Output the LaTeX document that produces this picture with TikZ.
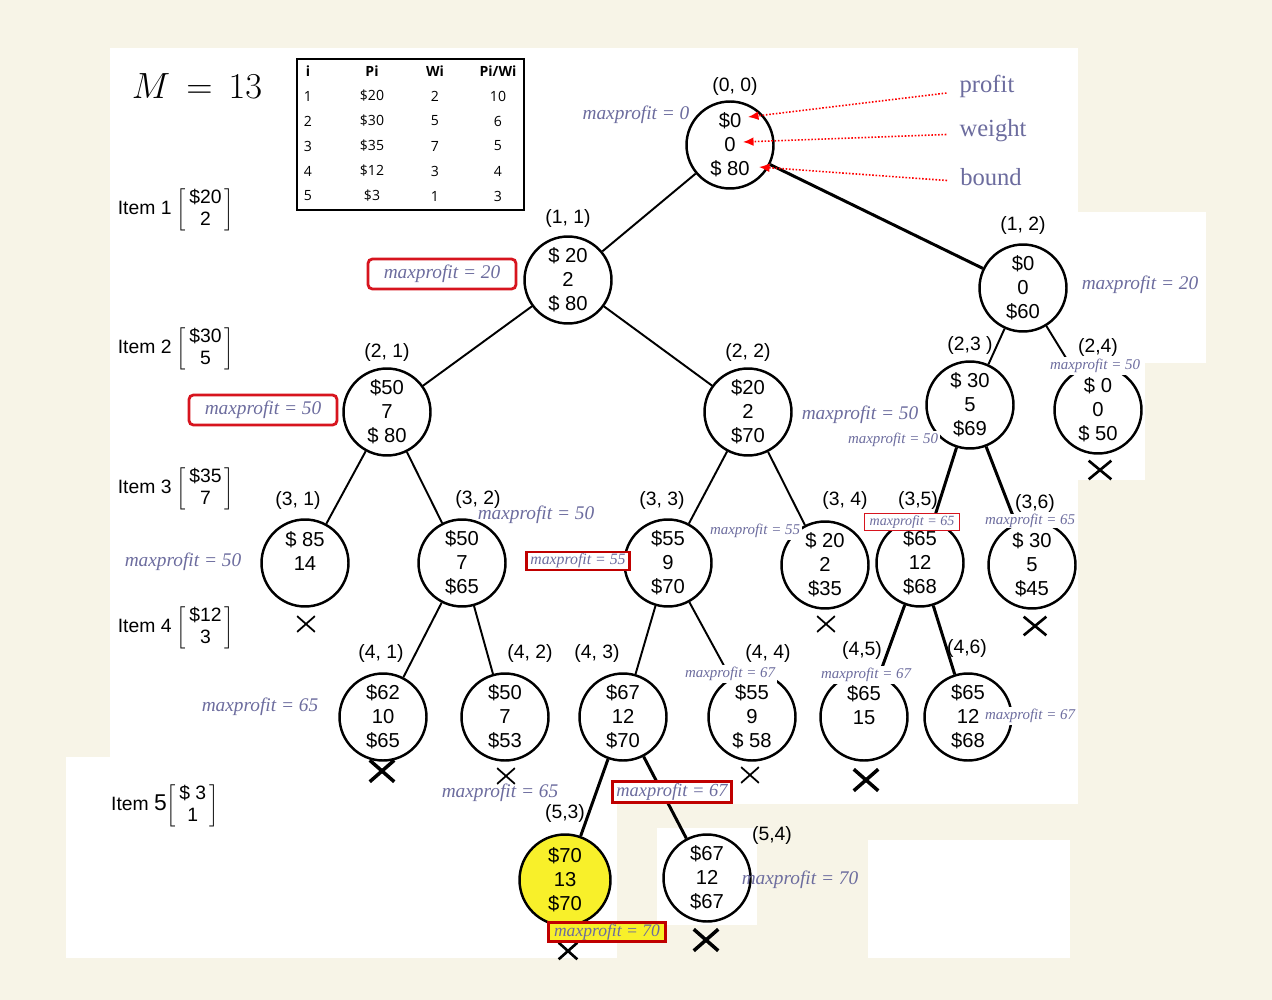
\documentclass[tikz,border=0pt]{standalone}
\usepackage{fontspec}
\setmainfont{Liberation Sans}
\newfontfamily\mpfont{Liberation Serif}
\newfontfamily\tabfont{Open Sans}
\usetikzlibrary{positioning,shapes.misc,arrows.meta}
\definecolor{cream}{HTML}{F7F4E7}
\definecolor{mpblue}{HTML}{6C6C9E}
\definecolor{boxred}{HTML}{D7141E}
\definecolor{darkred}{HTML}{C00000}
\definecolor{hilite}{HTML}{F8F02A}
\tikzset{
  state/.style={circle, draw, line width=1.4pt, minimum size=1.74cm, inner sep=0pt,
    align=center, font=\fontsize{11.5}{13.6}\selectfont},
  coordlbl/.style={font=\fontsize{11}{12}\selectfont, inner sep=1pt},
  mp/.style={text=mpblue, font=\mpfont\itshape\fontsize{11}{12}\selectfont, inner sep=1pt},
  mpsmall/.style={mp, font=\mpfont\itshape\fontsize{8.5}{10}\selectfont, fill=white},
  mpbox/.style={mp, draw=boxred, line width=1.6pt, rounded corners=2.5pt,
    minimum width=2.96cm, minimum height=0.6cm},
  mpsharp/.style={draw=darkred, line width=1.6pt, inner xsep=2pt, inner ysep=1pt},
  edge/.style={line width=1.1pt},
  edgethick/.style={line width=1.7pt},
  prune/.style={cross out, draw, line width=1pt, minimum width=0.32cm, minimum height=0.28cm, inner sep=0pt},
  prunebold/.style={prune, line width=2pt, minimum width=0.42cm, minimum height=0.36cm},
  itemlbl/.style={font=\fontsize{11}{12}\selectfont, inner sep=0pt},
  tabcell/.style={font=\tabfont\fontsize{8}{9}\selectfont, inner sep=0pt},
  hint/.style={draw=red, densely dotted, line width=0.9pt, -{Latex[length=6pt,width=5pt]}},
  hinttext/.style={text=mpblue, font=\mpfont\fontsize{14}{16}\selectfont},
}
\newcommand{\itemvec}[2]{$\left[\mbox{\fontsize{11}{13}\selectfont\begin{tabular}{@{\,}c@{\,}}#1\\#2\end{tabular}}\right]$}
\begin{document}
\begin{tikzpicture}[x=0.02cm, y=-0.02cm]
\useasboundingbox (0,0) rectangle (1272,1000);
% paper and pasted patches
\fill[cream] (0,0) rectangle (1272,1000);
\fill[white] (110,48) rectangle (1078,804);
\fill[white] (1078,212) rectangle (1206,363);
\fill[white] (1078,363) rectangle (1145,480);
\fill[white] (66,757) rectangle (617,958);
\fill[white] (657,828) rectangle (757,925);
\fill[white] (868,840) rectangle (1070,958);

% capacity and item table
\node[font=\fontsize{20}{22}\selectfont] (cap) at (197,86) {$M\,=\,13$};
\draw[line width=0.8pt] (297,59) rectangle (524,210);
\node[tabcell, font=\tabfont\bfseries\fontsize{8}{9}\selectfont] (hi) at (308,71) {i};
\node[tabcell, font=\tabfont\bfseries\fontsize{8}{9}\selectfont] (hp) at (372,71) {Pi};
\node[tabcell, font=\tabfont\bfseries\fontsize{8}{9}\selectfont] (hw) at (435,71) {Wi};
\node[tabcell, font=\tabfont\bfseries\fontsize{8}{9}\selectfont] (hr) at (498,71) {Pi/Wi};
\foreach \p/\w/\r [count=\k] in {20/2/10, 30/5/6, 35/7/5, 12/3/4, 3/1/3}{
  \node[tabcell] (ti\k) at (308,71+25*\k) {\k};
  \node[tabcell] (tp\k) at (372,71+25*\k) {\$\p};
  \node[tabcell] (tw\k) at (435,71+25*\k) {\w};
  \node[tabcell] (tr\k) at (498,71+25*\k) {\r};
}

% items
\node[itemlbl] (item1) at (176,210) {Item 1 \itemvec{\$20}{2}};
\node[itemlbl] (item2) at (176,349) {Item 2 \itemvec{\$30}{5}};
\node[itemlbl] (item3) at (176,489) {Item 3 \itemvec{\$35}{7}};
\node[itemlbl] (item4) at (176,628) {Item 4 \itemvec{\$12}{3}};
\node[itemlbl] (item5) at (165,806) {Item {\fontsize{13}{14}\selectfont 5}\itemvec{\$ 3}{1}};

% state space tree
\node[state] (n00) at (730,145) {\$0\\0\\\$ 80};
\node[state] (n11) at (568,280) {\$ 20\\2\\\$ 80};
\node[state] (n12) at (1023,288) {\$0\\0\\\$60};
\node[state] (n21) at (387,412) {\$50\\7\\\$ 80};
\node[state] (n22) at (748,412) {\$20\\2\\\$70};
\node[state] (n23) at (970,405) {\$ 30\\5\\\$69};
\node[state] (n24) at (1098,410) {\$ 0\\0\\\$ 50};
\node[state] (n31) at (305,563) {\$ 85\\14\\~};
\node[state] (n32) at (462,563) {\$50\\7\\\$65};
\node[state] (n33) at (668,563) {\$55\\9\\\$70};
\node[state] (n34) at (825,565) {\$ 20\\2\\\$35};
\node[state] (n35) at (920,563) {\$65\\12\\\$68};
\node[state] (n36) at (1032,565) {\$ 30\\5\\\$45};
\node[state] (n41) at (383,717) {\$62\\10\\\$65};
\node[state] (n42) at (505,717) {\$50\\7\\\$53};
\node[state] (n43) at (623,717) {\$67\\12\\\$70};
\node[state] (n44) at (752,717) {\$55\\9\\\$ 58};
\node[state] (n45) at (864,717) {\$65\\15\\~};
\node[state] (n46) at (968,717) {\$65\\12\\\$68};
\node[state, fill=hilite, minimum size=1.82cm] (n53) at (565,880) {\$70\\13\\\$70};
\node[state] (n54) at (707,878) {\$67\\12\\\$67};

\draw[edge] (n00) -- (n11);
\draw[edgethick] (n00) -- (n12);
\draw[edge] (n11) -- (n21);
\draw[edge] (n11) -- (n22);
\draw[edge] (n12) -- (n23);
\draw[edge] (n12) -- (n24);
\draw[edge] (n21) -- (n31);
\draw[edge] (n21) -- (n32);
\draw[edge] (n22) -- (n33);
\draw[edge] (n22) -- (n34);
\draw[edgethick] (n23) -- (n35);
\draw[edgethick] (n23) -- (n36);
\draw[edge] (n32) -- (n41);
\draw[edge] (n32) -- (n42);
\draw[edge] (n33) -- (n43);
\draw[edge] (n33) -- (n44);
\draw[edgethick] (n35) -- (n45);
\draw[edgethick] (n35) -- (n46);
\draw[edgethick] (n43) -- (n53);
\draw[edgethick] (n43) -- (n54);

% level, index labels
\node[coordlbl] (c00) at (735,87) {(0, 0)};
\node[coordlbl] (c11) at (568,218) {(1, 1)};
\node[coordlbl] (c12) at (1023,226) {(1, 2)};
\node[coordlbl] (c21) at (387,352) {(2, 1)};
\node[coordlbl] (c22) at (748,352) {(2, 2)};
\node[coordlbl] (c23) at (970,345) {(2,3 )};
\node[coordlbl] (c24) at (1098,347) {(2,4)};
\node[coordlbl] (c31) at (298,500) {(3, 1)};
\node[coordlbl] (c32) at (478,499) {(3, 2)};
\node[coordlbl] (c33) at (662,500) {(3, 3)};
\node[coordlbl] (c34) at (845,500) {(3, 4)};
\node[coordlbl] (c35) at (918,500) {(3,5)};
\node[coordlbl] (c36) at (1035,503) {(3,6)};
\node[coordlbl] (c41) at (381,653) {(4, 1)};
\node[coordlbl] (c42) at (530,653) {(4, 2)};
\node[coordlbl] (c43) at (597,653) {(4, 3)};
\node[coordlbl] (c44) at (768,653) {(4, 4)};
\node[coordlbl] (c45) at (862,650) {(4,5)};
\node[coordlbl] (c46) at (967,648) {(4,6)};
\node[coordlbl] (c53) at (565,813) {(5,3)};
\node[coordlbl] (c54) at (772,835) {(5,4)};

% pruned nodes
\node[prune, line width=1.5pt, minimum width=0.4cm, minimum height=0.32cm] (x24) at (1100,470) {};
\node[prune] (x31) at (306,624) {};
\node[prune] (x34) at (826,624) {};
\node[prune, line width=1.5pt, minimum width=0.4cm, minimum height=0.32cm] (x36) at (1035,626) {};
\node[prunebold] (x41) at (382,771) {};
\node[prune] (x42) at (506,776) {};
\node[prune] (x44) at (750,775) {};
\node[prunebold] (x45) at (866,780) {};
\node[prune, line width=1.5pt] (x53) at (568,951) {};
\node[prunebold] (x54) at (706,940) {};

% maxprofit notes
\node[mp] (mp00) at (636,115) {maxprofit = 0};
\node[mpbox, fill=white] (mp11) at (442,274) {maxprofit = 20};
\node[mp] (mp12) at (1140,285) {maxprofit = 20};
\node[mpbox, fill=white] (mp21) at (263,410) {maxprofit = 50};
\node[mp] (mp22) at (860,415) {maxprofit = 50};
\node[mpsmall] (mp23) at (893,440) {maxprofit = 50};
\node[mpsmall] (mp24) at (1095,366) {maxprofit = 50};
\node[mp] (mp31) at (183,562) {maxprofit = 50};
\node[mp] (mp32) at (536,515) {maxprofit = 50};
\node[mpsmall, mpsharp, font=\mpfont\itshape\fontsize{9}{10}\selectfont] (mp33) at (578,561) {maxprofit = 55};
\node[mpsmall] (mp34) at (755,531) {maxprofit = 55};
\node[mpsmall, font=\mpfont\itshape\fontsize{8}{9}\selectfont, draw=boxred, line width=0.6pt, inner xsep=3pt] (mp35) at (912,522) {maxprofit = 65};
\node[mpsmall, inner ysep=0pt] (mp36) at (1030,521) {maxprofit = 65};
\node[mp] (mp41) at (260,707) {maxprofit = 65};
\node[mp] (mp42) at (500,793) {maxprofit = 65};
\node[mp, mpsharp, font=\mpfont\itshape\fontsize{10.5}{12}\selectfont, fill=white] (mp43) at (672,792) {maxprofit = 67};
\node[mpsmall] (mp44) at (730,674) {maxprofit = 67};
\node[mpsmall] (mp45) at (866,675) {maxprofit = 67};
\node[mpsmall] (mp46) at (1030,716) {maxprofit = 67};
\node[mp, mpsharp, font=\mpfont\itshape\fontsize{10}{11}\selectfont, fill=hilite, inner xsep=3pt] (mp53) at (607,932) {maxprofit = 70};
\node[mp] (mp54) at (800,880) {maxprofit = 70};

% legend of the root node
\node[hinttext] (tprofit) at (987,86) {profit};
\node[hinttext] (tweight) at (993,131) {weight};
\node[hinttext] (tbound) at (991,177) {bound};
\coordinate (hp) at (748,117);
\coordinate (hw) at (743,142);
\coordinate (hb) at (759,167);
\draw[hint] ([xshift=-4pt,yshift=-4pt]tprofit.west) -- (hp);
\draw[hint] ([xshift=-4pt,yshift=-2pt]tweight.west) -- (hw);
\draw[hint] ([xshift=-4pt,yshift=-2pt]tbound.west) -- (hb);
\end{tikzpicture}
\end{document}
